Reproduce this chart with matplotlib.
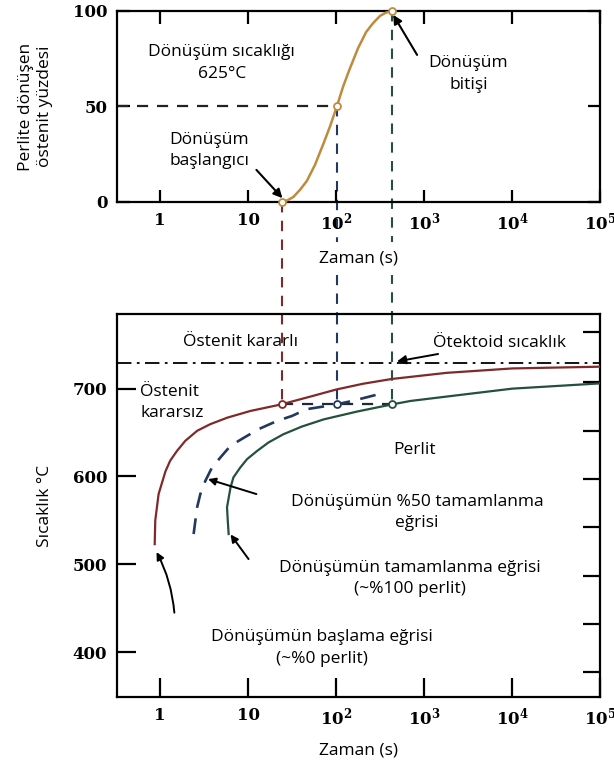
import matplotlib
matplotlib.use("Agg")
import matplotlib.pyplot as plt

plt.rcParams['font.family'] = ['Open Sans', 'DejaVu Sans']
plt.rcParams['mathtext.fontset'] = 'dejavuserif'

# top panel: percent austenite transformed to pearlite at 625 C
t_top = [24.1, 28, 32.6, 39, 46.4, 57.5, 71.6, 85, 101, 120, 142, 177, 219, 261, 314, 366, 430]
pct_top = [0, 0.9, 2.6, 6.5, 11, 19.5, 30.5, 39.5, 49.6, 60.5, 69.5, 80.5, 89, 93.5, 97.4, 99.1, 100]

# bottom panel: TTT curves (time s, temperature C)
t_start = [0.867, 0.88, 0.96, 1.15, 1.30, 1.55, 1.93, 2.63, 3.7, 5.8, 10.6, 23.6, 55.6, 100, 200, 427,
           1800, 10000, 100000]
T_start = [523, 550, 580, 606, 618, 629, 640.6, 652, 659.5, 667, 674.6, 682, 692, 699, 705.5, 711,
           718, 723, 725]

t_half = [2.4, 2.63, 2.86, 3.26, 3.87, 4.83, 6.3, 8.9, 13.2, 21, 31.6, 46, 100, 160, 250, 300]
T_half = [534.5, 565, 580, 595, 610, 621.6, 635, 644, 654, 663, 669, 676.6, 682, 686.5, 691.5, 693.5]

t_end = [6.0, 5.86, 5.75, 6.3, 6.8, 8.1, 9.7, 12.6, 17, 25, 40.6, 72, 174, 427, 700, 1800, 10000, 100000]
T_end = [534.5, 550, 565, 587.5, 599, 610, 619.7, 629, 638.7, 648, 656.8, 665, 674, 682, 686, 691, 700, 706]

t_marks = [24.1, 101, 430]
pct_marks = [0, 50, 100]
T_iso = 682
T_eutectoid = 729

x_ticks = [1, 10, 100, 1000, 10000, 100000]
x_ticklabels = ['1', '10', r'$\mathbf{10^2}$', r'$\mathbf{10^3}$', r'$\mathbf{10^4}$', r'$\mathbf{10^5}$']
right_ticks = [377, 432, 487, 542, 597, 652, 708, 765]

c_top = '#c08a3e'
c_red = '#7e2a2a'
c_blue = '#23385f'
c_green = '#24503c'

fig = plt.figure(figsize=(6.14, 7.63), dpi=100)
ax1 = fig.add_axes([0.1906, 0.7353, 0.787, 0.2503])
ax2 = fig.add_axes([0.1906, 0.0865, 0.787, 0.502])

xmin, xmax = 10 ** -0.49, 10 ** 5.0
dash = (0, (5, 4))
fs = 12.5
tick_font = dict(family='DejaVu Serif', weight='bold', size=12)

# ---- top panel ----
ax1.plot(t_top, pct_top, color=c_top, lw=1.8, zorder=3)
ax1.plot([xmin, t_marks[1]], [50, 50], color='#222222', lw=1.6, ls=dash, zorder=2)
ax1.plot([t_marks[0], t_marks[0]], [0, -59], color=c_red, lw=1.5, ls=dash, clip_on=False, zorder=1)
ax1.plot([t_marks[1], t_marks[1]], [50, -59], color=c_blue, lw=1.5, ls=dash, clip_on=False, zorder=1)
ax1.plot([t_marks[2], t_marks[2]], [100, -59], color=c_green, lw=1.5, ls=dash, clip_on=False, zorder=1)
ax1.plot(t_marks, pct_marks, 'o', ms=5, mfc='white', mec=c_top, mew=1.3, zorder=4, clip_on=False)

ax1.set_xscale('log')
ax1.set_xlim(xmin, xmax)
ax1.set_ylim(0, 100)
ax1.set_yticks([0, 50, 100])
ax1.set_xticks(x_ticks)
ax1.set_xticklabels(x_ticklabels)
ax1.minorticks_off()
ax1.tick_params(direction='in', length=9, width=1.6, top=True, right=True, pad=7)
for lbl in ax1.get_xticklabels() + ax1.get_yticklabels():
    lbl.set(**tick_font)
ax1.set_xlabel('Zaman (s)', fontsize=fs, labelpad=12,
               bbox=dict(facecolor='white', edgecolor='none', pad=6))
ax1.set_ylabel('Perlite dönüşen\nöstenit yüzdesi', fontsize=fs, labelpad=14, linespacing=1.3)
for s in ax1.spines.values():
    s.set_linewidth(1.6)

ax1.text(5.0, 72.8, 'Dönüşüm sıcaklığı\n625°C', ha='center', va='center', fontsize=fs, linespacing=1.45)
ax1.text(3.6, 27, 'Dönüşüm\nbaşlangıcı', ha='center', va='center', fontsize=fs, linespacing=1.45)
ax1.text(3170, 67, 'Dönüşüm\nbitişi', ha='center', va='center', fontsize=fs, linespacing=1.45)
ax1.annotate('', xy=(24.5, 2), xytext=(12.4, 16.8),
             arrowprops=dict(arrowstyle='-|>', color='black', lw=1.5, mutation_scale=13, shrinkA=0, shrinkB=0))
ax1.annotate('', xy=(444, 98), xytext=(830, 77),
             arrowprops=dict(arrowstyle='-|>', color='black', lw=1.5, mutation_scale=13, shrinkA=0, shrinkB=0))

# ---- bottom panel ----
ax2.axhline(T_eutectoid, color='black', lw=1.3, ls=(0, (8, 3, 1.5, 3)))
ax2.plot(t_start, T_start, color=c_red, lw=1.6, zorder=3)
ax2.plot(t_half, T_half, color=c_blue, lw=1.9, ls=(0, (6, 4)), zorder=3)
ax2.plot(t_end, T_end, color=c_green, lw=1.6, zorder=3)
ax2.plot([t_marks[0], t_marks[2]], [T_iso, T_iso], color='#1e2a3a', lw=1.6, ls=dash, zorder=2)
ax2.plot([t_marks[0], t_marks[0]], [785, T_iso], color=c_red, lw=1.5, ls=dash, zorder=2)
ax2.plot([t_marks[1], t_marks[1]], [785, T_iso], color=c_blue, lw=1.5, ls=dash, zorder=2)
ax2.plot([t_marks[2], t_marks[2]], [785, T_iso], color=c_green, lw=1.5, ls=dash, zorder=2)
for tm, c in zip(t_marks, [c_red, c_blue, c_green]):
    ax2.plot([tm], [T_iso], 'o', ms=5, mfc='white', mec=c, mew=1.3, zorder=4)

ax2.set_xscale('log')
ax2.set_xlim(xmin, xmax)
ax2.set_ylim(349, 785)
ax2.set_xticks(x_ticks)
ax2.set_xticklabels(x_ticklabels)
ax2.set_yticks([400, 500, 600, 700])
ax2.minorticks_off()
ax2.set_yticks(right_ticks, minor=True)
ax2.tick_params(which='major', direction='in', length=14, width=1.6, pad=7)
ax2.tick_params(which='minor', axis='y', direction='in', length=12, width=1.6,
                left=False, right=True)
for lbl in ax2.get_xticklabels() + ax2.get_yticklabels():
    lbl.set(**tick_font)
ax2.set_xlabel('Zaman (s)', fontsize=fs, labelpad=10)
ax2.set_ylabel('Sıcaklık °C', fontsize=fs, labelpad=14)
for s in ax2.spines.values():
    s.set_linewidth(1.6)

ax2.text(8.1, 753, 'Östenit kararlı', ha='center', va='center', fontsize=fs)
ax2.text(1.37, 684, 'Östenit\nkararsız', ha='center', va='center', fontsize=fs,
         linespacing=1.45, multialignment='left')
ax2.text(767, 630, 'Perlit', ha='center', va='center', fontsize=fs)
ax2.text(830, 559, 'Dönüşümün %50 tamamlanma\neğrisi', ha='center', va='center', fontsize=fs, linespacing=1.45)
ax2.text(680, 484, 'Dönüşümün tamamlanma eğrisi\n(~%100 perlit)', ha='center', va='center', fontsize=fs, linespacing=1.45)
ax2.text(69, 405, 'Dönüşümün başlama eğrisi\n(~%0 perlit)', ha='center', va='center', fontsize=fs, linespacing=1.45)
ax2.annotate('Ötektoid sıcaklık', xy=(490, 731), xytext=(1250, 752), ha='left', va='center', fontsize=fs,
             arrowprops=dict(arrowstyle='-|>', color='black', lw=1.4, mutation_scale=13, shrinkA=1, shrinkB=0))
ax2.annotate('', xy=(3.5, 597), xytext=(12.4, 580),
             arrowprops=dict(arrowstyle='-|>', color='black', lw=1.4, mutation_scale=11, shrinkA=0, shrinkB=0))
ax2.annotate('', xy=(6.3, 534), xytext=(10.1, 506),
             arrowprops=dict(arrowstyle='-|>', color='black', lw=1.4, mutation_scale=11, shrinkA=0, shrinkB=0))
ax2.annotate('', xy=(0.91, 514), xytext=(1.45, 445),
             arrowprops=dict(arrowstyle='-|>', color='black', lw=1.4, mutation_scale=11, shrinkA=0, shrinkB=0,
                             connectionstyle='arc3,rad=0.1'))

fig.savefig('out.png', dpi=100)
